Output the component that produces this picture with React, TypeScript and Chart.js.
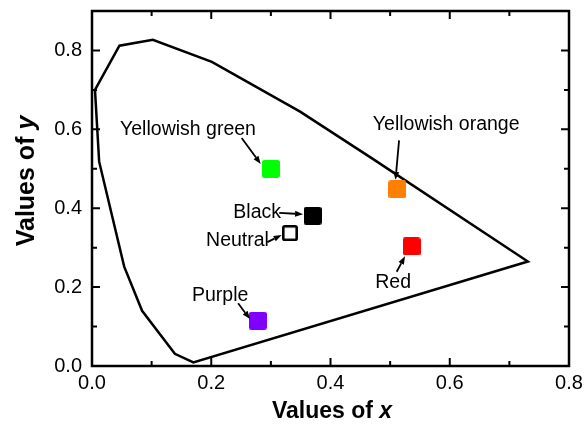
import { useEffect, useRef } from "react";
import { Chart, registerables } from "chart.js";

Chart.register(...registerables);

const FONT = "'Liberation Sans', Arial, Helvetica, sans-serif";

// Spectral locus outline (x, y chromaticity)
const locusX = [0.005, 0.046, 0.102, 0.201, 0.349, 0.469, 0.731, 0.170, 0.139, 0.084, 0.054, 0.012, 0.005];
const locusY = [0.700, 0.812, 0.827, 0.771, 0.645, 0.527, 0.265, 0.009, 0.031, 0.140, 0.252, 0.518, 0.700];

// Colour points
const pointNames = ["Yellowish green", "Yellowish orange", "Black", "Neutral", "Red", "Purple"];
const pointX = [0.300, 0.512, 0.370, 0.332, 0.536, 0.278];
const pointY = [0.500, 0.448, 0.381, 0.337, 0.303, 0.115];
const pointFill = ["#00ff00", "#ff8000", "#000000", "#ffffff", "#ff0000", "#8000ff"];

// Annotation label anchors and arrows (data coordinates)
const labelX = [0.161, 0.594, 0.277, 0.244, 0.505, 0.215];
const labelY = [0.599, 0.612, 0.388, 0.317, 0.211, 0.178];
const arrowFromX = [0.251, 0.515, 0.314, 0.294, 0.511, 0.245];
const arrowFromY = [0.578, 0.572, 0.388, 0.314, 0.239, 0.159];
const arrowToX = [0.283, 0.509, 0.354, 0.318, 0.525, 0.265];
const arrowToY = [0.512, 0.472, 0.385, 0.332, 0.278, 0.119];

// Axis ticks
const xMajorTicks = [0, 0.2, 0.4, 0.6, 0.8];
const xMinorTicks = [0.1, 0.3, 0.5, 0.7];
const yMajorTicks = [0, 0.2, 0.4, 0.6, 0.8];
const yMinorTicks = [0.1, 0.3, 0.5, 0.7];

function makeSquare(fill: string, hollow: boolean): HTMLCanvasElement {
  const size = hollow ? 16 : 18;
  const c = document.createElement("canvas");
  c.width = size;
  c.height = size;
  const g = c.getContext("2d")!;
  g.beginPath();
  if (hollow) {
    const lw = 2.6;
    g.roundRect(lw / 2, lw / 2, size - lw, size - lw, 1.5);
    g.fillStyle = fill;
    g.fill();
    g.lineWidth = lw;
    g.strokeStyle = "#000";
    g.stroke();
  } else {
    g.roundRect(0, 0, size, size, 2.5);
    g.fillStyle = fill;
    g.fill();
  }
  return c;
}

function drawArrow(ctx: CanvasRenderingContext2D, x1: number, y1: number, x2: number, y2: number) {
  const ang = Math.atan2(y2 - y1, x2 - x1);
  const headLen = 8;
  const headW = 3;
  const bx = x2 - headLen * Math.cos(ang);
  const by = y2 - headLen * Math.sin(ang);
  ctx.beginPath();
  ctx.moveTo(x1, y1);
  ctx.lineTo(bx, by);
  ctx.lineWidth = 1.8;
  ctx.strokeStyle = "#000";
  ctx.stroke();
  ctx.beginPath();
  ctx.moveTo(x2, y2);
  ctx.lineTo(bx + headW * Math.sin(ang), by - headW * Math.cos(ang));
  ctx.lineTo(bx - headW * Math.sin(ang), by + headW * Math.cos(ang));
  ctx.closePath();
  ctx.fillStyle = "#000";
  ctx.fill();
}

function drawTitle(ctx: CanvasRenderingContext2D, cx: number, cy: number, main: string, ital: string, size: number) {
  const f1 = `bold ${size}px ${FONT}`;
  const f2 = `italic bold ${size}px ${FONT}`;
  ctx.font = f1;
  const w1 = ctx.measureText(main).width;
  ctx.font = f2;
  const w2 = ctx.measureText(ital).width;
  const start = cx - (w1 + w2) / 2;
  ctx.textAlign = "left";
  ctx.textBaseline = "middle";
  ctx.fillStyle = "#000";
  ctx.font = f1;
  ctx.fillText(main, start, cy);
  ctx.font = f2;
  ctx.fillText(ital, start + w1, cy);
}

const decorPlugin = {
  id: "decor",
  afterDatasetsDraw(chart: any) {
    const { ctx, chartArea: a } = chart;
    const xs = chart.scales.x;
    const ys = chart.scales.y;
    ctx.save();
    // frame
    ctx.strokeStyle = "#000";
    ctx.lineWidth = 2.5;
    ctx.strokeRect(a.left, a.top, a.right - a.left, a.bottom - a.top);
    // inward ticks on all sides
    ctx.lineWidth = 2;
    const tick = (vals: number[], len: number) => {
      for (const v of vals) {
        const px = xs.getPixelForValue(v);
        ctx.beginPath();
        ctx.moveTo(px, a.bottom);
        ctx.lineTo(px, a.bottom - len);
        ctx.moveTo(px, a.top);
        ctx.lineTo(px, a.top + len);
        ctx.stroke();
      }
    };
    const tickY = (vals: number[], len: number) => {
      for (const v of vals) {
        const py = ys.getPixelForValue(v);
        ctx.beginPath();
        ctx.moveTo(a.left, py);
        ctx.lineTo(a.left + len, py);
        ctx.moveTo(a.right, py);
        ctx.lineTo(a.right - len, py);
        ctx.stroke();
      }
    };
    tick(xMajorTicks, 8);
    tick(xMinorTicks, 5);
    tickY(yMajorTicks, 8);
    tickY(yMinorTicks, 5);

    // labels
    ctx.font = `19.5px ${FONT}`;
    ctx.textAlign = "center";
    ctx.textBaseline = "middle";
    ctx.fillStyle = "#000";
    pointNames.forEach((n, i) => {
      ctx.fillText(n, xs.getPixelForValue(labelX[i]), ys.getPixelForValue(labelY[i]));
    });
    // arrows
    pointNames.forEach((_, i) => {
      drawArrow(
        ctx,
        xs.getPixelForValue(arrowFromX[i]),
        ys.getPixelForValue(arrowFromY[i]),
        xs.getPixelForValue(arrowToX[i]),
        ys.getPixelForValue(arrowToY[i])
      );
    });

    // axis titles
    drawTitle(ctx, 332, 412, "Values of ", "x", 23);
    ctx.translate(27, 181);
    ctx.rotate(-Math.PI / 2);
    drawTitle(ctx, 0, 0, "Values of ", "y", 25);
    ctx.restore();
  },
};

export default function App() {
  const ref = useRef<HTMLCanvasElement>(null);
  useEffect(() => {
    const canvas = ref.current!;
    const styles = pointFill.map((f, i) => makeSquare(f, pointNames[i] === "Neutral"));
    const chart = new Chart(canvas, {
      type: "scatter",
      data: {
        datasets: [
          {
            data: pointX.map((x, i) => ({ x, y: pointY[i] })),
            pointStyle: styles as any,
            pointRadius: 9,
            order: 1,
          } as any,
          {
            type: "line",
            data: locusX.map((x, i) => ({ x, y: locusY[i] })),
            borderColor: "#000",
            borderWidth: 2.5,
            pointRadius: 0,
            fill: false,
            tension: 0,
            order: 2,
          } as any,
        ],
      },
      options: {
        responsive: false,
        animation: false,
        events: [],
        layout: { padding: { top: 11, right: 16, left: 0, bottom: 0 } },
        plugins: { legend: { display: false }, tooltip: { enabled: false } },
        scales: {
          x: {
            type: "linear",
            min: 0,
            max: 0.8,
            afterBuildTicks: (s: any) => {
              s.ticks = xMajorTicks.map((v) => ({ value: v }));
            },
            afterFit: (s: any) => {
              s.height = 62;
              s.paddingLeft = 0;
              s.paddingRight = 0;
            },
            ticks: {
              callback: (v: any) => Number(v).toFixed(1),
              font: { family: FONT, size: 20 },
              color: "#000",
              padding: 5,
              maxRotation: 0,
              autoSkip: false,
            },
            grid: { display: false, drawTicks: false },
            border: { display: false },
          },
          y: {
            type: "linear",
            min: 0,
            max: 0.9,
            afterBuildTicks: (s: any) => {
              s.ticks = yMajorTicks.map((v) => ({ value: v }));
            },
            afterFit: (s: any) => {
              s.width = 92;
              s.paddingTop = 0;
              s.paddingBottom = 0;
            },
            ticks: {
              callback: (v: any) => Number(v).toFixed(1),
              font: { family: FONT, size: 20 },
              color: "#000",
              padding: 10,
              autoSkip: false,
            },
            grid: { display: false, drawTicks: false },
            border: { display: false },
          },
        },
      },
      plugins: [decorPlugin],
    });
    return () => chart.destroy();
  }, []);
  return (
    <div style={{ position: "fixed", left: 0, top: 0, width: 585, height: 428, background: "#fff" }}>
      <canvas ref={ref} width={585} height={428} />
    </div>
  );
}
